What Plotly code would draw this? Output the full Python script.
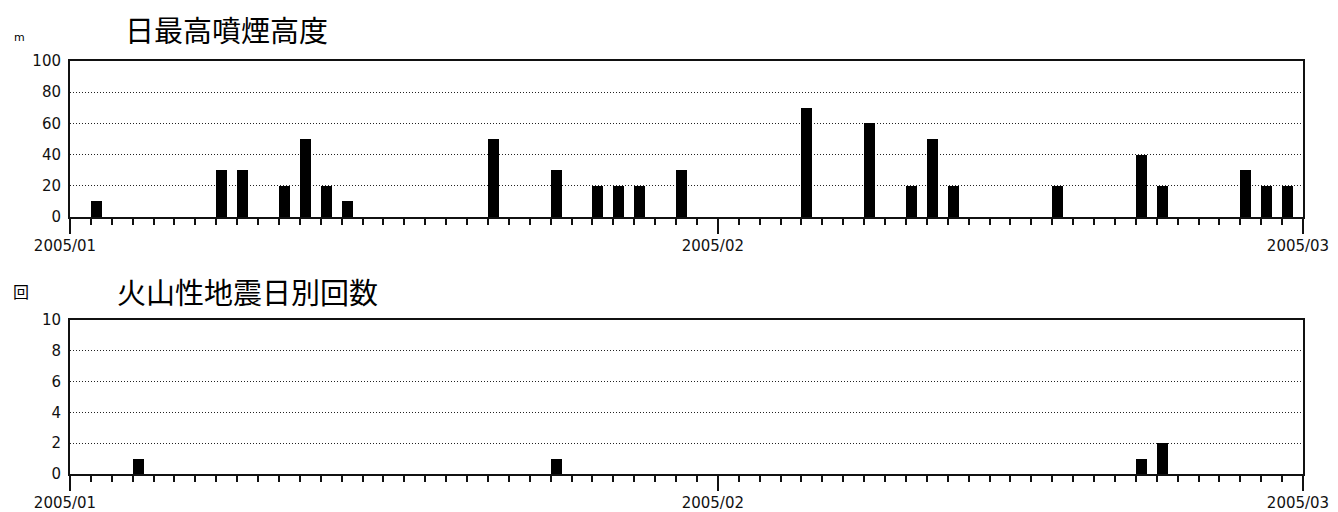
import plotly.graph_objects as go

# Daily maximum plume height (m)
plume_dates = ["2005-01-02", "2005-01-08", "2005-01-09", "2005-01-11", "2005-01-12",
               "2005-01-13", "2005-01-14", "2005-01-21", "2005-01-24", "2005-01-26",
               "2005-01-27", "2005-01-28", "2005-01-30", "2005-02-05", "2005-02-08",
               "2005-02-10", "2005-02-11", "2005-02-12", "2005-02-17", "2005-02-21",
               "2005-02-22", "2005-02-26", "2005-02-27", "2005-02-28"]
plume_heights = [10, 30, 30, 20, 50, 20, 10, 50, 30, 20, 20, 20, 30, 70, 60,
                 20, 50, 20, 20, 40, 20, 30, 20, 20]

# Daily volcanic earthquake counts
quake_dates = ["2005-01-04", "2005-01-24", "2005-02-21", "2005-02-22"]
quake_counts = [1, 1, 1, 2]

month_ticks = ["2005-01-01", "2005-02-01", "2005-03-01"]
month_labels = ["2005/01", "2005/02", "2005/03"]

title_top = "日最高噴煙高度"
title_bottom = "火山性地震日別回数"
unit_top = "m"
unit_bottom = "回"

DAY_MS = 86400000
TICK_FONT = dict(family="DejaVu Sans", size=15, color="#111")
CJK = "Noto Sans CJK JP"
OFF = 8                      # page body margin
W, H = 1338 - OFF, 512 - OFF
L, R = 70 - OFF, 35          # plot area from x=70 to x=1303 in the page

fig = go.Figure()
fig.add_trace(go.Bar(x=plume_dates, y=plume_heights, width=DAY_MS * 0.52, offset=0,
                     marker=dict(color="black", line=dict(width=0)),
                     xaxis="x", yaxis="y", showlegend=False))
fig.add_trace(go.Bar(x=quake_dates, y=quake_counts, width=DAY_MS * 0.52, offset=0,
                     marker=dict(color="black", line=dict(width=0)),
                     xaxis="x2", yaxis="y2", showlegend=False))


def xaxis_def(anchor):
    return dict(
        type="date", range=["2005-01-01", "2005-03-01"], anchor=anchor,
        tickmode="array", tickvals=month_ticks, ticktext=month_labels,
        ticks="outside", ticklen=15, tickwidth=1.5, tickcolor="#111",
        ticklabelstandoff=-1, ticklabelshift=-5,
        minor=dict(dtick=DAY_MS, tick0="2005-01-01", ticks="outside",
                   ticklen=6, tickwidth=1.5, tickcolor="#111", showgrid=False),
        showline=True, linecolor="#111", linewidth=2, mirror=True,
        showgrid=False, zeroline=False, tickfont=TICK_FONT, automargin=False,
        fixedrange=True,
    )


def yaxis_def(anchor, top, dtick, domain):
    return dict(
        range=[0, top], dtick=dtick, tick0=0, anchor=anchor, domain=domain,
        showline=True, linecolor="#111", linewidth=2, mirror=True,
        showgrid=True, gridcolor="#222", griddash="1px,2px", gridwidth=1,
        zeroline=False, ticks="", tickfont=TICK_FONT, ticklabelstandoff=4,
        automargin=False, fixedrange=True,
    )


def py(pix):
    return 1 - (pix - OFF) / H


def px(pix):
    return (pix - 70) / (W - L - R)


fig.update_layout(
    width=W, height=H,
    margin=dict(l=L, r=R, t=0, b=0),
    paper_bgcolor="white", plot_bgcolor="white",
    bargap=0,
    xaxis=xaxis_def("y"),
    yaxis=yaxis_def("x", 100, 20, [py(217), py(61)]),
    xaxis2=xaxis_def("y2"),
    yaxis2=yaxis_def("x2", 10, 2, [py(474), py(320)]),
    annotations=[
        dict(text=title_top, x=px(123), y=py(29), xref="paper", yref="paper",
             xanchor="left", yanchor="middle", showarrow=False,
             font=dict(family=CJK, size=29, color="black")),
        dict(text=title_bottom, x=px(115), y=py(291), xref="paper", yref="paper",
             xanchor="left", yanchor="middle", showarrow=False,
             font=dict(family=CJK, size=29, color="black")),
        dict(text=unit_top, x=px(12), y=py(37), xref="paper", yref="paper",
             xanchor="left", yanchor="middle", showarrow=False,
             font=dict(family="DejaVu Sans", size=11, color="black")),
        dict(text=unit_bottom, x=px(11), y=py(291), xref="paper", yref="paper",
             xanchor="left", yanchor="middle", showarrow=False,
             font=dict(family=CJK, size=16, color="black")),
    ],
)

fig.write_html("out.html")
